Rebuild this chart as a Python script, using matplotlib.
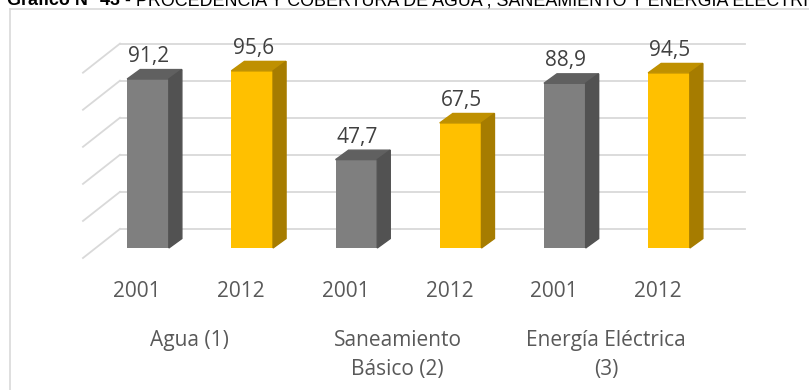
import matplotlib
matplotlib.use("Agg")
import matplotlib.pyplot as plt
from matplotlib.patches import Polygon
from matplotlib.lines import Line2D

# coberturas (%) por servicio y censo
years = ["2001", "2012", "2001", "2012", "2001", "2012"]
values = [91.2, 95.6, 47.7, 67.5, 88.9, 94.5]
groups = ["Agua (1)", "Saneamiento\nBásico (2)", "Energía Eléctrica\n(3)"]
grid_values = [0, 20, 40, 60, 80, 100]
title_bold = "Gráfico N° 43"
title_rest = " - PROCEDENCIA Y COBERTURA DE AGUA , SANEAMIENTO Y ENERGÍA ELECTRICA"

front = ["#7f7f7f", "#ffc000"]
side = ["#525252", "#a67c00"]
top = ["#606060", "#bf9000"]
txt = "#595959"

W, H = 809, 390
fig = plt.figure(figsize=(W / 100, H / 100), dpi=100)
ax = fig.add_axes([0, 0, 1, 1])
# 1 unidad x = 104.2 px, 1 unidad y = 1.853 px
ax.set_xlim(-148 / 104.2, (W - 148) / 104.2)
ax.set_ylim(-(H - 248) / 1.853, 248 / 1.853)
ax.axis("off")

bw = 0.40     # ancho frontal
dx = 0.125    # profundidad en x
dy = 5.1      # profundidad en y
wall_dy = 10.3

# pared del fondo y lateral
for g in grid_values:
    ax.plot([-0.269, 5.729], [g + wall_dy, g + wall_dy], color="#d9d9d9", lw=1.3, zorder=1)
    ax.plot([-0.624, -0.269], [g - 5.4, g + wall_dy], color="#d9d9d9", lw=1.3, zorder=1)

for i, v in enumerate(values):
    c = i % 2
    ax.bar(i, v, width=bw, color=front[c], zorder=3)
    x0, x1 = i - bw / 2, i + bw / 2
    ax.add_patch(Polygon([(x0, v), (x1, v), (x1 + dx, v + dy), (x0 + dx, v + dy)],
                         closed=True, color=top[c], zorder=3))
    ax.add_patch(Polygon([(x1, 0), (x1 + dx, dy), (x1 + dx, v + dy), (x1, v)],
                         closed=True, color=side[c], zorder=3))
    ax.text(i + 0.01, v + dy + 4, f"{v:.1f}".replace(".", ","), ha="center", va="baseline",
            fontsize=15, color="#404040", family="Open Sans", zorder=4)
    ax.text(i - 0.106, -26.5, years[i], ha="center", va="baseline",
            fontsize=15, color=txt, family="Open Sans")

for k, name in enumerate(groups):
    xc = 2 * k + 0.5 - 0.106
    ax.text(xc, -44.5, name, ha="center", va="top", fontsize=15, color=txt,
            family="Open Sans", linespacing=1.45)

# marco del gráfico
fig.add_artist(Line2D([10 / W, 10 / W], [0, 1 - 9 / H], color="#d9d9d9", lw=1.2))
fig.add_artist(Line2D([10 / W, 1], [1 - 9 / H, 1 - 9 / H], color="#d9d9d9", lw=1.2))

# titulo (cortado por el borde superior)
tfam = ["Liberation Sans", "DejaVu Sans"]
t1 = fig.text(7 / W, 1 - 5 / H, title_bold, fontsize=12.9, fontweight="bold",
              family=tfam, va="baseline", color="black")
fig.canvas.draw()
bb = t1.get_window_extent()
fig.text(bb.x1 / W, 1 - 5 / H, title_rest, fontsize=12.9,
         family=tfam, va="baseline", color="black")

fig.savefig("out.png", dpi=100)
